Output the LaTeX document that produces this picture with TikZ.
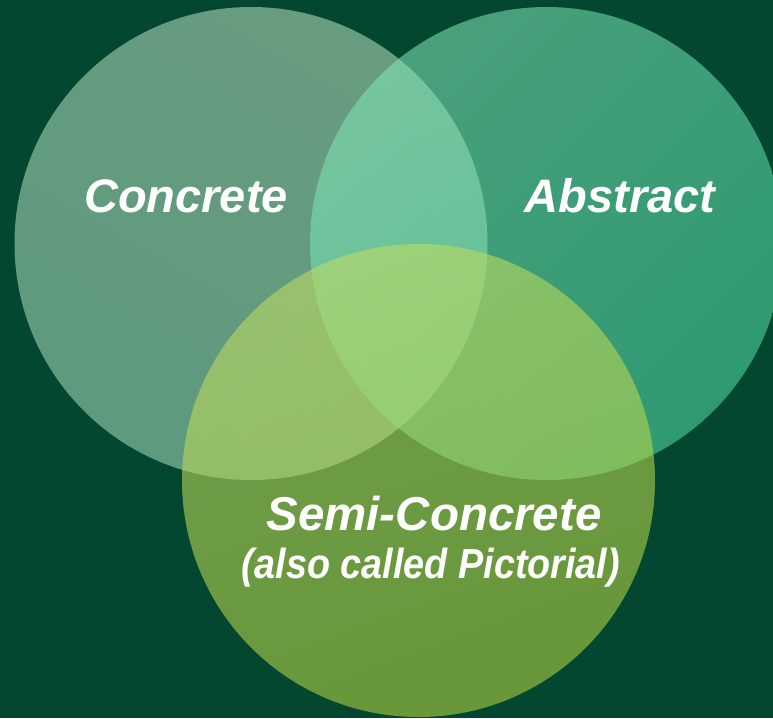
\documentclass[tikz,border=0pt]{standalone}
\usepackage{fontspec}
\setmainfont{Liberation Sans}
\newfontfamily\narrowsans[FakeStretch=0.9]{Liberation Sans}
\definecolor{bg}{RGB}{3,71,48}
\definecolor{concA}{RGB}{182,221,188}
\definecolor{concB}{RGB}{164,217,186}
\definecolor{absA}{RGB}{128,229,182}
\definecolor{absB}{RGB}{82,218,164}
\definecolor{semiA}{RGB}{192,220,98}
\definecolor{semiB}{RGB}{178,211,64}
\tikzset{
  venn/.style={circle, minimum size=473pt, inner sep=0pt, outer sep=0pt, draw=none},
  lbl/.style={anchor=base, inner sep=0pt, text=white, font=\bfseries\itshape},
}
\begin{document}
\begin{tikzpicture}[x=1pt,y=-1pt]
\fill[bg] (0,0) rectangle (773,718);
\useasboundingbox (0,0) rectangle (773,718);
\node[venn, fill opacity=0.57, top color=concA, bottom color=concB, shading angle=-30] (conc) at (251,243.5) {};
\node[venn, fill opacity=0.57, top color=absA, bottom color=absB, shading angle=45] (abs) at (546.5,243.5) {};
\node[venn, fill opacity=0.58, top color=semiA, bottom color=semiB, shading angle=20] (semi) at (418.5,480.5) {};
\node[lbl, font=\fontsize{47}{50}\selectfont\bfseries\itshape] (tconc) at (186,212) {Concrete};
\node[lbl, font=\fontsize{47}{50}\selectfont\bfseries\itshape] (tabs) at (620,212) {Abstract};
\node[lbl, font=\fontsize{47.5}{50}\selectfont\bfseries\itshape] (tsemi) at (434,530) {Semi-Concrete};
\node[lbl, font=\fontsize{42}{46}\selectfont\narrowsans\bfseries\itshape] (tsub) at (431,578) {(also called Pictorial)};
\end{tikzpicture}
\end{document}
